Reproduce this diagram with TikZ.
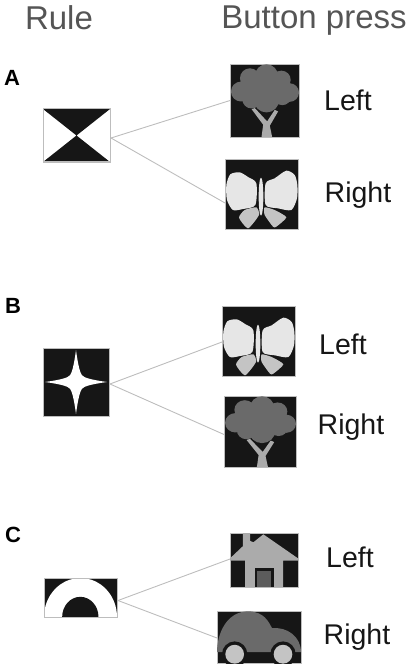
\documentclass[tikz,border=0pt]{standalone}
\usepackage{fontspec}
\setmainfont{Liberation Sans}
\definecolor{ink}{HTML}{161616}
\definecolor{edge}{HTML}{BDBDBD}
\definecolor{midgray}{HTML}{6A6A6A}
\definecolor{headgray}{HTML}{555555}
\definecolor{wing}{HTML}{E6E6E6}
\definecolor{lowwing}{HTML}{C4C4C4}
\definecolor{house}{HTML}{ABABAB}
\definecolor{door}{HTML}{5C5C5C}
\tikzset{
  iconbox/.style={draw=edge,line width=0.7pt,fill=ink,inner sep=0pt,outer sep=0pt},
  link/.style={draw=edge,line width=0.9pt},
  heading/.style={font=\fontsize{33}{33}\selectfont,text=headgray,inner sep=0pt,anchor=base},
  answer/.style={font=\fontsize{28.5}{28.5}\selectfont,text=ink,inner sep=0pt},
  panel/.style={font=\bfseries\fontsize{22}{22}\selectfont,text=black,inner sep=0pt}
}
% name, x0,y0,x1,y1, art, art x0, art w, art h
\newcommand{\IconBox}[9]{%
  \pgfmathsetmacro{\boxw}{#4-#2}\pgfmathsetmacro{\boxh}{#5-#3}%
  \pgfmathsetmacro{\boxsx}{\boxw/#8}\pgfmathsetmacro{\boxsy}{\boxh/#9}%
  \node[iconbox,minimum width=\boxw pt,minimum height=\boxh pt,anchor=north west] (#1) at (#2,#3) {};
  \begin{scope}
    \clip (#2,#3) rectangle (#4,#5);
    \begin{scope}[shift={(#2,#3)},xscale=\boxsx,yscale=\boxsy]
      \begin{scope}[shift={(-#7,0)}]
      #6
      \end{scope}
    \end{scope}
  \end{scope}}
\newcommand{\TreeArt}{%
  \begin{scope}[shift={(0,-42)}]
  \fill[house] (155,262) -- (160,225) -- (125,178) -- (135,175) -- (172,215) -- (195,180) -- (205,185) -- (180,228) -- (187,262) -- cycle;
  \fill[midgray] (120,85) circle (30) (170,78) circle (35) (215,90) circle (28) (240,128) circle (28)
     (93,125) circle (30) (125,148) circle (28) (170,150) circle (38) (218,140) circle (26) (160,115) circle (50);
  \end{scope}}
\newcommand{\ButterflyArt}{%
  \begin{scope}[shift={(0,-12)}]
  \fill[wing] plot[smooth cycle,tension=0.45] coordinates {(20,90) (32,58) (60,52) (85,66) (110,85) (107,150) (70,162) (40,165) (22,135)};
  \fill[wing] plot[smooth cycle,tension=0.45] coordinates {(233,90) (225,60) (200,47) (165,70) (138,85) (138,150) (175,160) (215,165) (232,130)};
  \fill[lowwing] plot[smooth cycle,tension=0.35] coordinates {(58,188) (75,165) (110,157) (118,180) (85,220)};
  \fill[lowwing] plot[smooth cycle,tension=0.35] coordinates {(135,157) (165,165) (200,187) (170,215) (160,215) (135,180)};
  \fill[wing] (124,125) ellipse (7 and 57);
  \end{scope}}
\begin{document}
\begin{tikzpicture}[x=1pt,y=-1pt]
\useasboundingbox (0,0) rectangle (413,671);
\node[heading] (hrule) at (59,30) {Rule};
\node[heading] (hpress) at (314,29) {Button press};
\node[panel] (pa) at (12,78) {A};
\node[panel] (pb) at (13,306) {B};
\node[panel] (pc) at (13,535) {C};
% rule A
\IconBox{ruleA}{43}{109}{110}{162}{%
  \fill[white] (0,0) rectangle (100,100);
  \fill[ink] (0,0) -- (100,0) -- (50,50) -- cycle (0,100) -- (100,100) -- (50,50) -- cycle;
}{0}{100}{100}
\draw[edge,line width=1pt] (ruleA.south west) rectangle (ruleA.north east);
% rule B
\IconBox{ruleB}{43}{348}{109}{416}{%
  \fill[white] (3,50) .. controls (25,47) and (38,44) .. (41,40) .. controls (44,36) and (47,25) .. (50,3)
    .. controls (53,25) and (56,36) .. (59,40) .. controls (62,44) and (75,47) .. (97,50)
    .. controls (75,53) and (62,56) .. (59,60) .. controls (56,64) and (53,75) .. (50,97)
    .. controls (47,75) and (44,64) .. (41,60) .. controls (38,56) and (25,53) .. (3,50) -- cycle;
}{0}{100}{100}
% rule C
\IconBox{ruleC}{44}{578}{117}{617}{%
  \fill[white] (0,116) arc[start angle=180,end angle=360,x radius=108.5,y radius=116] -- cycle;
  \fill[ink] (54,116) arc[start angle=180,end angle=360,x radius=54,y radius=60] -- cycle;
}{0}{217}{116}
\draw[edge,line width=0.8pt] (ruleC.south west) rectangle (ruleC.north east);
% icons
\IconBox{treeA}{230}{64}{299}{137}{\TreeArt}{60}{208}{220}
\IconBox{flyA}{225}{159}{298}{229}{\ButterflyArt}{16}{219}{210}
\IconBox{flyB}{222}{306}{295}{376}{\ButterflyArt}{16}{219}{210}
\IconBox{treeB}{224}{396}{296}{467}{\TreeArt}{60}{208}{220}
\IconBox{homeC}{230}{533}{298}{587}{%
  \begin{scope}[shift={(0,-38)}]
  \fill[house] (790,42) -- (895,115) -- (895,122) -- (850,122) -- (850,202) -- (735,202) -- (735,122) -- (689,122) -- (689,115) -- (728,78) -- (728,38) -- (750,38) -- (750,62) -- (760,66) -- cycle;
  \fill[ink] (765,143) rectangle (822,202);
  \fill[door] (772,152) rectangle (812,202);
  \end{scope}
}{689}{206}{164}
\IconBox{carC}{217}{611}{301}{663}{%
  \begin{scope}[shift={(0,-274)}]
  \fill[midgray] (650,396) .. controls (650,340) and (680,274) .. (745,275) .. controls (790,276) and (805,305) .. (815,325) .. controls (860,320) and (902,350) .. (902,396) -- cycle;
  \fill[ink] (703,402) circle (38) (848,402) circle (38);
  \fill[lowwing] (703,402) circle (28) (848,402) circle (28);
  \end{scope}
}{650}{252}{154}
% connectors
\coordinate (fromA) at ([xshift=1pt,yshift=-2.5pt]ruleA.east);
\coordinate (toA2) at ([yshift=-9pt]flyA.west);
\coordinate (fromB) at ([xshift=1pt,yshift=-2pt]ruleB.east);
\coordinate (toB1) at ([yshift=-1pt]flyB.west);
\coordinate (toB2) at ([yshift=-3pt]treeB.west);
\coordinate (fromC) at ([xshift=1pt,yshift=-3pt]ruleC.east);
\coordinate (toC1) at ([yshift=1pt]homeC.west);
\coordinate (toC2) at ([yshift=-1pt]carC.west);
\draw[link] (fromA) -- (treeA.west);
\draw[link] (fromA) -- (toA2);
\draw[link] (fromB) -- (toB1);
\draw[link] (fromB) -- (toB2);
\draw[link] (fromC) -- (toC1);
\draw[link] (fromC) -- (toC2);
% labels
\node[answer] (l1) at (348,100) {Left};
\node[answer] (l2) at (358,195) {Right};
\node[answer] (l3) at (343,344) {Left};
\node[answer] (l4) at (351,427) {Right};
\node[answer] (l5) at (350,557) {Left};
\node[answer] (l6) at (357,637) {Right};
\end{tikzpicture}
\end{document}
